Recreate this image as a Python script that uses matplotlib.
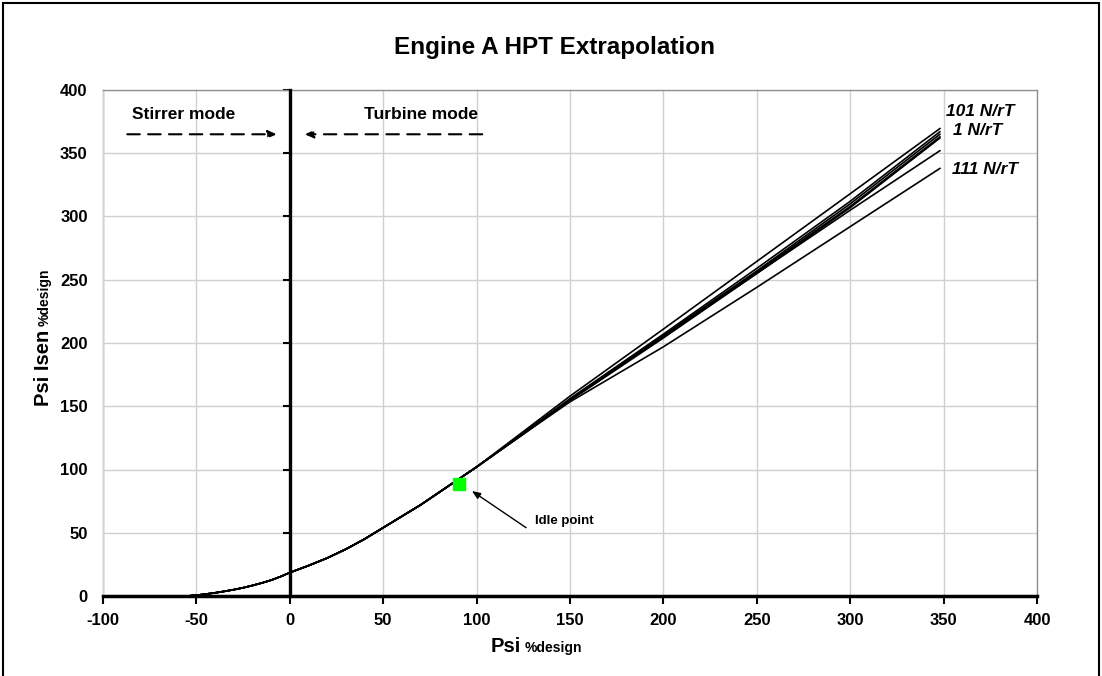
import matplotlib
matplotlib.use("Agg")
import matplotlib.pyplot as plt
from matplotlib.patches import Rectangle

plt.rcParams['font.family'] = ['Liberation Sans', 'DejaVu Sans']
plt.rcParams['axes.unicode_minus'] = False

# common part of all speed lines (Psi, Psi Isen)
base_x = [-55, -50, -45, -40, -35, -30, -25, -20, -15, -10, -5, 0,
          10, 20, 30, 40, 50, 60, 70, 80, 90, 100]
base_y = [0, 0.6, 1.5, 2.5, 3.7, 5, 6.5, 8.3, 10.3, 12.5, 15.3, 18.5,
          24, 30, 37, 45, 54, 63, 72, 82, 92, 102]

# extrapolated part, one list per speed line
ext_x = [125, 150, 200, 250, 300, 348]
line_101 = [130, 158, 211, 264.5, 318, 369.5]
line_a = [129, 156, 207, 259, 312, 367]
line_1 = [128.5, 155.5, 206, 257, 310, 365]
line_b = [128.5, 155, 205, 256, 308, 363]
line_c = [128, 154.5, 204, 255, 307, 362]
line_d = [128, 155, 205, 255, 305, 352]
line_111 = [128, 153.5, 197, 244, 292, 338]
speed_lines = [line_101, line_a, line_1, line_b, line_c, line_d, line_111]

idle_x, idle_y = 90.5, 88.5

line_labels = ['101 N/rT', '1 N/rT', '111 N/rT']
label_pos = [(351.5, 383), (355, 368), (354.5, 337.5)]

fig = plt.figure(figsize=(11.02, 6.76), dpi=100)
ax = fig.add_axes([103 / 1102, 1 - 596 / 676, 934 / 1102, 506 / 676])

for ys in speed_lines:
    ax.plot(base_x + ext_x, base_y + ys, color='black', lw=1.2, zorder=3)

ax.plot([idle_x], [idle_y], marker='s', color='#00ff00', markersize=8,
        linestyle='none', zorder=4)

ax.set_xlim(-100, 400)
ax.set_ylim(0, 400)
ax.set_xticks(range(-100, 401, 50))
ax.set_yticks(range(0, 401, 50))
ax.grid(True, color='#d0d0d0', lw=1)
ax.set_axisbelow(True)

# y axis drawn at Psi = 0, labels kept at the left edge
ax.spines['left'].set_position(('data', 0))
ax.spines['left'].set_linewidth(2.4)
ax.spines['left'].set_zorder(5)
ax.spines['bottom'].set_linewidth(2.5)
ax.spines['bottom'].set_zorder(5)
for s in ['top', 'right']:
    ax.spines[s].set_color('#909090')
    ax.spines[s].set_linewidth(1)
ax.tick_params(axis='y', direction='out', length=5, width=1.5, labelleft=False)
ax.tick_params(axis='x', direction='out', length=6, width=1.5, pad=6,
               labelsize=12)
for t in ax.get_xticklabels():
    t.set_fontweight('bold')

sec = ax.secondary_yaxis(0.0)
sec.set_yticks(range(0, 401, 50))
sec.spines['left'].set_color('#909090')
sec.spines['left'].set_linewidth(1)
sec.tick_params(length=0, pad=11, labelsize=12)
for t in sec.get_yticklabels():
    t.set_fontweight('bold')

# mode annotations
ax.text(-57, 381, 'Stirrer mode', ha='center', va='center', fontsize=12.5,
        fontweight='bold')
ax.text(70, 381, 'Turbine mode', ha='center', va='center', fontsize=12.5,
        fontweight='bold')
arrow_kw = dict(arrowstyle='-|>,head_length=0.5,head_width=0.22', color='black',
                lw=1.5, linestyle=(0, (6, 4)), shrinkA=0, shrinkB=0)
ax.annotate('', xy=(-7, 365), xytext=(-87, 365), arrowprops=arrow_kw)
ax.annotate('', xy=(8, 365), xytext=(103, 365), arrowprops=arrow_kw)

# idle point
ax.annotate('', xy=(97.5, 83), xytext=(126.5, 54),
            arrowprops=dict(arrowstyle='-|>,head_length=0.5,head_width=0.2',
                            color='black', lw=1, shrinkA=0, shrinkB=0))
ax.text(131, 59, 'Idle point', ha='left', va='center', fontsize=9.5,
        fontweight='bold')

for lab, (lx, ly) in zip(line_labels, label_pos):
    ax.text(lx, ly, lab, ha='left', va='center', fontsize=12.5,
            fontweight='bold', fontstyle='italic')

fig.text(0.503, 0.929, 'Engine A HPT Extrapolation', ha='center', va='center',
         fontsize=17.5, fontweight='bold')

# axis titles: large name + small unit
fig.text(521 / 1102, 1 - 652 / 676, 'Psi', ha='right', va='baseline',
         fontsize=14.5, fontweight='bold')
fig.text(525 / 1102, 1 - 652 / 676, '%design', ha='left', va='baseline',
         fontsize=10, fontweight='bold')
fig.text(49 / 1102, 1 - 330 / 676, 'Psi Isen', ha='right', va='baseline',
         rotation=90, rotation_mode='anchor', fontsize=14.5, fontweight='bold')
fig.text(49 / 1102, 1 - 326 / 676, '%design', ha='left', va='baseline',
         rotation=90, rotation_mode='anchor', fontsize=10, fontweight='bold')

# outer chart frame
fig.patches.append(Rectangle((3 / 1102, -0.05), 1096 / 1102, 1.05 - 3 / 676,
                             transform=fig.transFigure, fill=False,
                             edgecolor='black', lw=1.5))

fig.savefig('out.png', dpi=100)
